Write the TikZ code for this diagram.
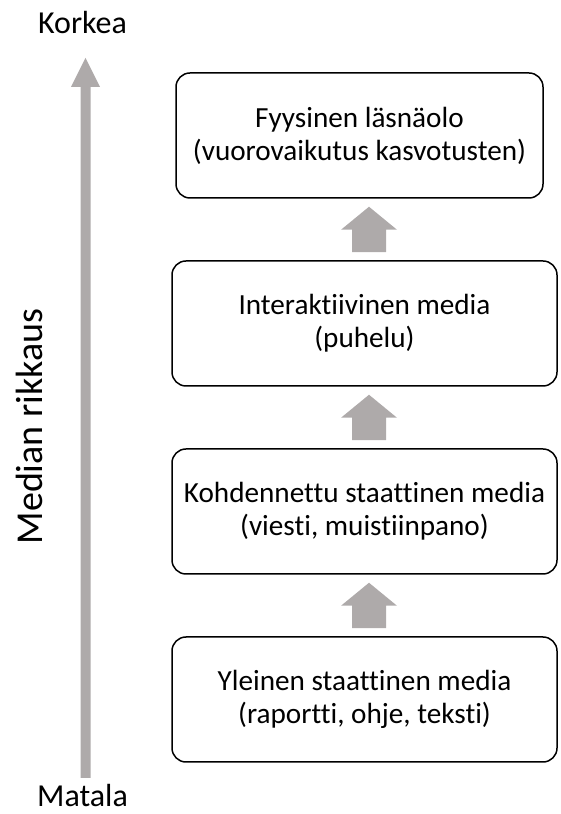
\documentclass[tikz,border=0pt]{standalone}
\usepackage{fontspec}
\setmainfont[RawFeature={-liga;-clig;-calt;-dlig;-rlig}]{Carlito}
\usetikzlibrary{calc}
\definecolor{axisgray}{HTML}{AEAAAA}
\tikzset{
  stage/.style={draw=black, line width=1.5pt, rounded corners=14pt, align=center,
    font=\fontsize{29.2}{33}\selectfont, minimum height=125pt, inner sep=0pt},
  endlabel/.style={font=\fontsize{32}{38}\selectfont, anchor=base, inner sep=0pt},
}
% block arrow rising from the top of box #1 to the bottom of box #2
\newcommand\blockrise[2]{%
  \fill[axisgray] let \p1=($(#1.north)+(4.5,8)$), \p2=($(#2.south)+(0,-8)$) in
    (\x1-17pt,\y1) -- (\x1+17pt,\y1) -- (\x1+17pt,\y2-23pt) -- (\x1+28pt,\y2-23pt)
    -- (\x1,\y2) -- (\x1-28pt,\y2-23pt) -- (\x1-17pt,\y2-23pt) -- cycle;}
\begin{document}
\begin{tikzpicture}[x=1pt,y=1pt]
\useasboundingbox (0,0) rectangle (560,814);

% media stages
\node[stage, minimum width=367pt] (b1) at (359.5,678.5) {Fyysinen läsnäolo\\(vuorovaikutus kasvotusten)};
\node[stage, minimum width=385pt] (b2) at (364.5,490.5) {Interaktiivinen media\\(puhelu)};
\node[stage, minimum width=385pt] (b3) at (364.5,302.5) {Kohdennettu staattinen media\\(viesti, muistiinpano)};
\node[stage, minimum width=385pt] (b4) at (364.5,114.5) {Yleinen staattinen media\\(raportti, ohje, teksti)};

\blockrise{b4}{b3}
\blockrise{b3}{b2}
\blockrise{b2}{b1}

% richness axis
\node[endlabel] (hi) at (82.5,780) {Korkea};
\node[endlabel] (lo) at (82.5,7) {Matala};
\node[font=\fontsize{38}{44}\selectfont, rotate=90, anchor=base, inner sep=0pt] (axis) at (42,387.5) {Median rikkaus};
\coordinate (axbot) at (85.5,36);
\coordinate (axtop) at (85.5,756);
\fill[axisgray] let \p1=(axbot), \p2=(axtop) in
  (\x1-5pt,\y1) -- (\x1+5pt,\y1) -- (\x1+5pt,\y2-29pt) -- (\x1+14.5pt,\y2-29pt)
  -- (\x1,\y2) -- (\x1-14.5pt,\y2-29pt) -- (\x1-5pt,\y2-29pt) -- cycle;
\end{tikzpicture}
\end{document}
